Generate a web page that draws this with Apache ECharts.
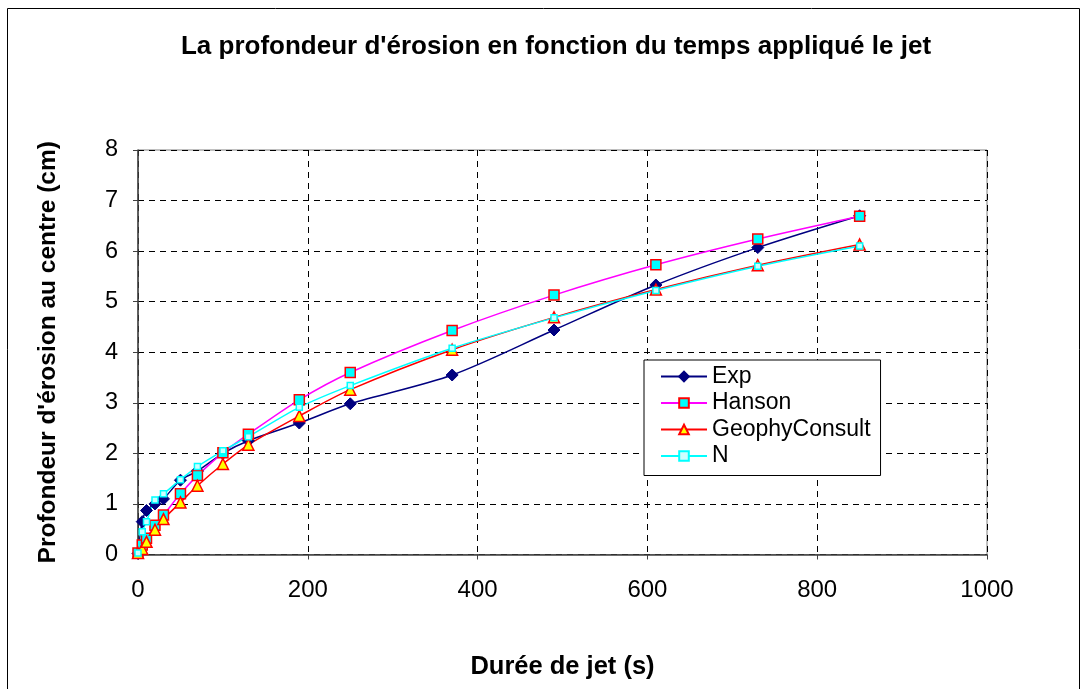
<!DOCTYPE html>
<html>
<head>
<meta charset="utf-8">
<script src="https://cdn.jsdelivr.net/npm/echarts@6/dist/echarts.min.js"></script>
<style>html,body{margin:0;padding:0;background:#fff;}#c{width:1084px;height:689px;}</style>
</head>
<body>
<div id="c"></div>
<script>
const times = [0, 5, 10, 20, 30, 50, 70, 100, 130, 190, 250, 370, 490, 610, 730, 850];
const expVals = [0.02, 0.65, 0.87, 1.0, 1.1, 1.47, 1.65, 2.0, 2.25, 2.6, 2.98, 3.55, 4.44, 5.33, 6.07, 6.7];
const hansonVals = [0.03, 0.19, 0.32, 0.58, 0.78, 1.2, 1.56, 2.01, 2.38, 3.06, 3.6, 4.43, 5.13, 5.73, 6.24, 6.69];
const geophyVals = [0.03, 0.11, 0.25, 0.49, 0.7, 1.03, 1.36, 1.79, 2.17, 2.74, 3.26, 4.05, 4.69, 5.24, 5.72, 6.13];
const nVals = [0.03, 0.45, 0.65, 1.08, 1.2, 1.48, 1.74, 2.05, 2.33, 2.91, 3.34, 4.08, 4.68, 5.22, 5.7, 6.1];
const xTicks = [0, 200, 400, 600, 800, 1000];
const yTicks = [0, 1, 2, 3, 4, 5, 6, 7, 8];

const pairs = v => times.map((t, i) => [t, v[i]]);
const FONT = '"Liberation Sans", Arial, sans-serif';
const chart = echarts.init(document.getElementById('c'), null, {renderer: 'canvas'});
chart.setOption({
  animation: false,
  backgroundColor: '#fff',
  title: {
    text: "La profondeur d'érosion en fonction du temps appliqué le jet",
    left: 551, top: 29, textAlign: 'center',
    textStyle: {fontFamily: FONT, fontSize: 26, fontWeight: 'bold', color: '#000'}
  },
  graphic: [{
    type: 'rect', silent: true,
    shape: {x: 7.5, y: 8.5, width: 1072, height: 700},
    style: {fill: 'none', stroke: '#000', lineWidth: 1}
  }],
  legend: {
    orient: 'vertical', left: 644, top: 360,
    backgroundColor: '#fff', borderColor: '#000', borderWidth: 1,
    padding: [5, 10, 8, 16],
    itemGap: 3.5, itemWidth: 46, itemHeight: 12,
    textStyle: {fontFamily: FONT, fontSize: 23, color: '#000'},
    data: ['Exp', 'Hanson', 'GeophyConsult', 'N']
  },
  grid: {left: 138, right: 97, top: 150, bottom: 134.5, show: true, borderColor: '#808080', borderWidth: 1, backgroundColor: '#fff'},
  xAxis: {
    type: 'value', min: 0, max: 1000, interval: 200,
    name: 'Durée de jet (s)', nameLocation: 'middle', nameGap: 99,
    nameTextStyle: {fontFamily: FONT, fontSize: 25.5, fontWeight: 'bold', color: '#000'},
    axisLine: {show: true, onZero: false, lineStyle: {color: '#404040', width: 1.5}},
    axisTick: {show: true, length: 5, lineStyle: {color: '#404040'}},
    axisLabel: {fontFamily: FONT, fontSize: 24, color: '#000', margin: 24,
      formatter: v => xTicks.includes(v) ? String(v) : ''},
    splitLine: {show: true, lineStyle: {color: '#000', type: [6, 5], width: 1}}
  },
  yAxis: {
    type: 'value', min: 0, max: 8, interval: 1,
    name: "Profondeur d'érosion au centre (cm)", nameLocation: 'middle', nameGap: 77,
    nameTextStyle: {fontFamily: FONT, fontSize: 24.5, fontWeight: 'bold', color: '#000'},
    axisLine: {show: true, onZero: false, lineStyle: {color: '#404040', width: 1.5}},
    axisTick: {show: true, length: 5, lineStyle: {color: '#404040'}},
    axisLabel: {fontFamily: FONT, fontSize: 23.5, color: '#000', margin: 20,
      formatter: v => yTicks.includes(v) ? String(v) : ''},
    splitLine: {show: true, lineStyle: {color: '#000', type: [6, 5], width: 1}}
  },
  series: [
    {name: 'Exp', type: 'line', data: pairs(expVals), smooth: 0.3,
      symbol: 'diamond', symbolSize: 12,
      lineStyle: {color: '#000080', width: 1.5},
      itemStyle: {color: '#000080', borderColor: '#000080', borderWidth: 1}},
    {name: 'Hanson', type: 'line', data: pairs(hansonVals), smooth: 0.3,
      symbol: 'rect', symbolSize: 10,
      lineStyle: {color: '#FF00FF', width: 1.5},
      itemStyle: {color: '#00FFFF', borderColor: '#FF0000', borderWidth: 1.5}},
    {name: 'GeophyConsult', type: 'line', data: pairs(geophyVals), smooth: 0.3,
      symbol: 'triangle', symbolSize: 11,
      lineStyle: {color: '#FF0000', width: 1.5},
      itemStyle: {color: '#FFFF00', borderColor: '#FF0000', borderWidth: 1.5}},
    {name: 'N', type: 'line', data: pairs(nVals), smooth: 0.3,
      symbol: 'rect', symbolSize: 6,
      lineStyle: {color: '#00FFFF', width: 1.5},
      itemStyle: {color: '#CCFFFF', borderColor: '#00FFFF', borderWidth: 1.5}}
  ]
});
</script>
</body>
</html>
